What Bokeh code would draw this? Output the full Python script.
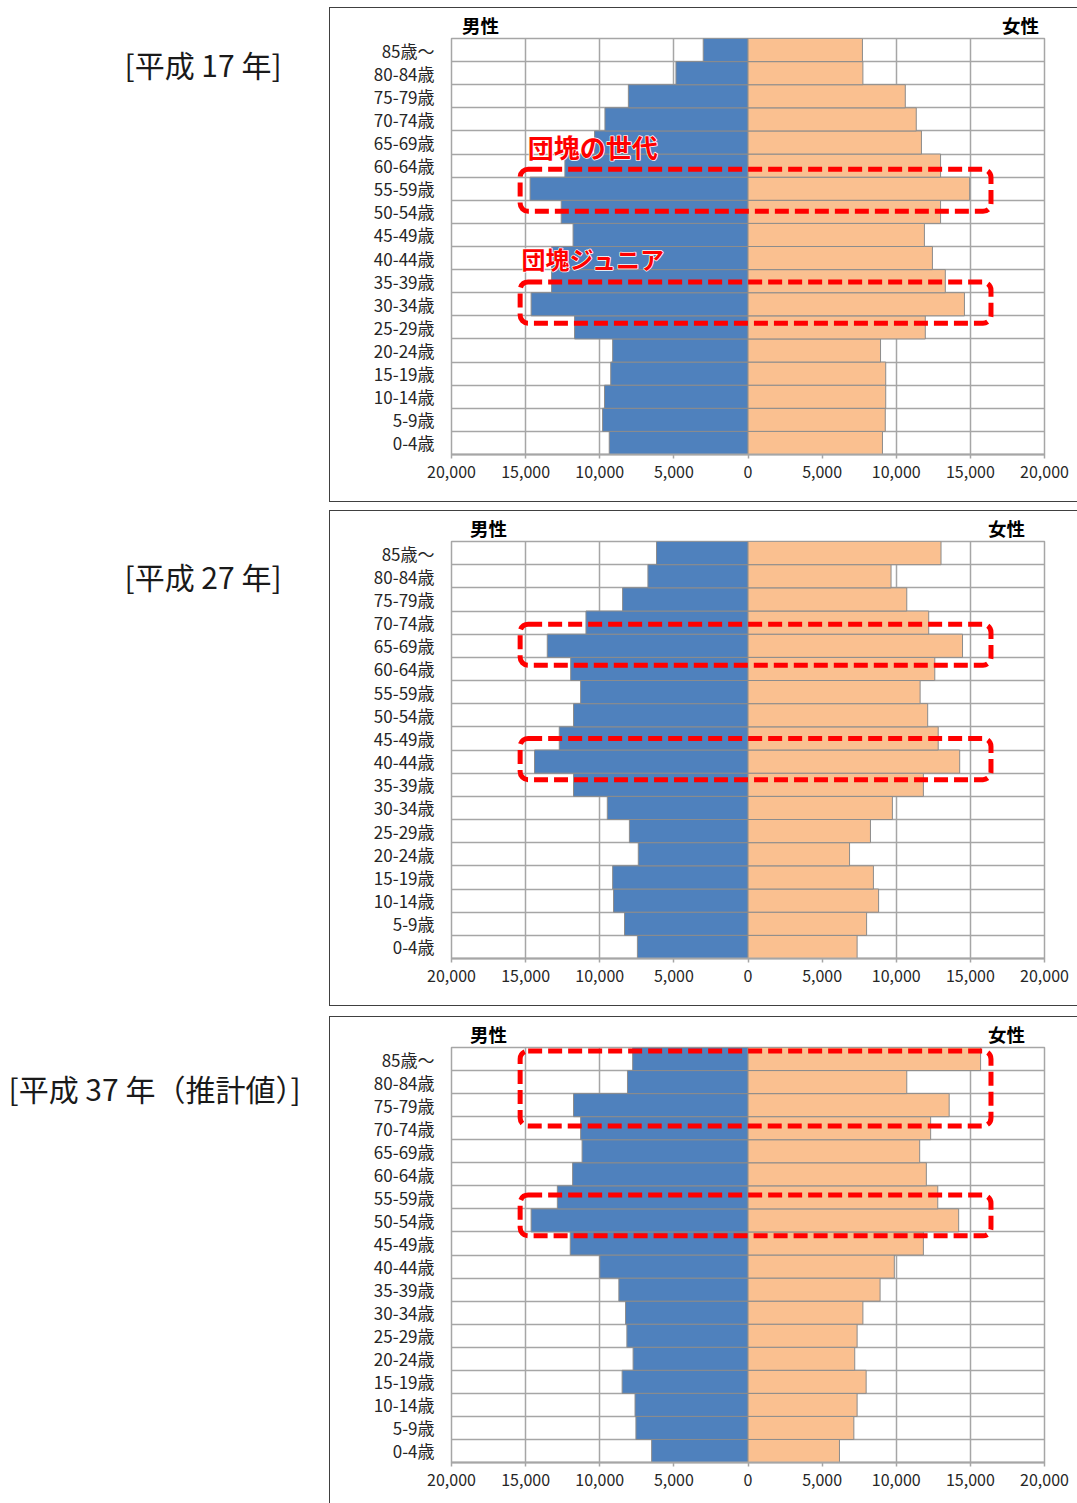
from bokeh.plotting import figure
from bokeh.models import Range1d, FixedTicker, LinearAxis, BoxAnnotation, Spacer
from bokeh.layouts import row, column
from bokeh.embed import file_html
from bokeh.resources import INLINE
from bokeh.core.properties import value

FONT = "Noto Sans CJK JP"

# ---------------- data ----------------
age_groups = ["0-4歳", "5-9歳", "10-14歳", "15-19歳", "20-24歳", "25-29歳",
              "30-34歳", "35-39歳", "40-44歳", "45-49歳", "50-54歳", "55-59歳",
              "60-64歳", "65-69歳", "70-74歳", "75-79歳", "80-84歳", "85歳～"]

male_h17 = [9360, 9810, 9680, 9260, 9130, 11700, 14630, 13250, 13250, 11800,
            12600, 14700, 12350, 10350, 9650, 8070, 4860, 3020]
female_h17 = [9070, 9260, 9290, 9290, 8940, 11960, 14600, 13310, 12440, 11900,
              12990, 14950, 12990, 11700, 11350, 10610, 7750, 7720]

male_h27 = [7460, 8330, 9070, 9130, 7400, 8000, 9490, 11770, 14400, 12730,
            11770, 11290, 11960, 13540, 10930, 8460, 6750, 6170]
female_h27 = [7360, 8000, 8810, 8460, 6850, 8260, 9740, 11830, 14280, 12830,
              12120, 11610, 12600, 14470, 12190, 10710, 9650, 13020]

male_h37 = [6500, 7560, 7620, 8490, 7750, 8170, 8260, 8710, 10000, 11990,
            14630, 12860, 11830, 11190, 11290, 11770, 8130, 7780]
female_h37 = [6170, 7140, 7360, 7970, 7200, 7360, 7750, 8910, 9870, 11830,
              14210, 12800, 12030, 11580, 12320, 13570, 10710, 15690]

x_ticks = [-20000, -15000, -10000, -5000, 0, 5000, 10000, 15000, 20000]
x_tick_labels = ["20,000", "15,000", "10,000", "5,000", "0", "5,000", "10,000", "15,000", "20,000"]

panel_titles = ["[平成 17 年]", "[平成 27 年]", "[平成 37 年（推計値）]"]
male_label = "男性"
female_label = "女性"

MALE_COLOR = "#4F81BD"
FEMALE_COLOR = "#FAC090"
GRID_COLOR = "#A6A6A6"
EDGE_COLOR = "#8C8C8C"
RED = "#FF0000"


def make_panel(male, female, height, top_b, bottom_b, header_pos,
               boxes, notes, bottom_border=True):
    p = figure(width=748, height=height, output_backend="svg", toolbar_location=None,
               x_range=Range1d(-20000, 20000), y_range=Range1d(-0.5, 17.5),
               min_border_left=121, min_border_right=34,
               min_border_top=top_b, min_border_bottom=bottom_b)
    styles = {"border-top": "1px solid #404040", "border-left": "1px solid #404040"}
    if bottom_border:
        styles["border-bottom"] = "1px solid #404040"
    p.styles = styles
    p.outline_line_color = GRID_COLOR
    p.outline_line_width = 1.5

    ys = list(range(len(age_groups)))
    p.hbar(y=ys, left=[-v for v in male], right=0, height=1.0,
           fill_color=MALE_COLOR, line_color=EDGE_COLOR, line_width=1)
    p.hbar(y=ys, left=0, right=female, height=1.0,
           fill_color=FEMALE_COLOR, line_color=EDGE_COLOR, line_width=1)

    # grid
    p.xgrid.ticker = FixedTicker(ticks=x_ticks)
    p.xgrid.grid_line_color = GRID_COLOR
    p.xgrid.grid_line_width = 1.5
    p.ygrid.ticker = FixedTicker(ticks=[i - 0.5 for i in range(len(age_groups) + 1)])
    p.ygrid.grid_line_color = GRID_COLOR
    p.ygrid.grid_line_width = 1.5

    # x axis
    xa = p.xaxis[0]
    xa.ticker = FixedTicker(ticks=x_ticks)
    xa.major_label_overrides = {t: l for t, l in zip(x_ticks, x_tick_labels)}
    xa.axis_line_color = GRID_COLOR
    xa.axis_line_width = 2
    xa.major_tick_line_color = GRID_COLOR
    xa.major_tick_line_width = 1.5
    xa.major_tick_out = 4
    xa.major_tick_in = 0
    xa.minor_tick_line_color = None
    xa.major_label_text_font = FONT
    xa.major_label_text_font_size = "16px"
    xa.major_label_text_color = "#262626"
    xa.major_label_standoff = 7

    # y axis
    ya = p.yaxis[0]
    ya.ticker = FixedTicker(ticks=ys)
    ya.major_label_overrides = {i: g for i, g in enumerate(age_groups)}
    ya.axis_line_color = None
    ya.major_tick_line_color = None
    ya.minor_tick_line_color = None
    ya.major_label_text_font = FONT
    ya.major_label_text_font_size = "17px"
    ya.major_label_text_color = "#262626"
    ya.major_label_standoff = 11

    # headers (男性 / 女性) as labels of an axis above the frame
    top_axis = LinearAxis(ticker=FixedTicker(ticks=list(header_pos)),
                          major_label_overrides={header_pos[0]: male_label,
                                                 header_pos[1]: female_label},
                          axis_line_color=None, major_tick_line_color=None,
                          minor_tick_line_color=None,
                          major_tick_out=0, major_tick_in=0,
                          minor_tick_out=0, minor_tick_in=0,
                          major_label_text_font=FONT,
                          major_label_text_font_style="bold",
                          major_label_text_font_size="18.5px",
                          major_label_text_color="black",
                          major_label_standoff=1)
    p.add_layout(top_axis, "above")

    # highlight boxes
    for (l, r, b, t) in boxes:
        p.add_layout(BoxAnnotation(left=l, right=r, bottom=b, top=t,
                                   fill_color=None, fill_alpha=0,
                                   line_color=RED, line_alpha=1.0, line_width=5,
                                   line_dash="14 6", border_radius=8))
    for (txt, x, y, fs) in notes:
        p.text(x=[x], y=[y], text=[txt], text_font=value(FONT),
               text_font_style="bold", text_font_size=fs, text_color=RED,
               text_align="left", text_baseline="middle",
               text_outline_color="white")
        p.text(x=[x], y=[y], text=[txt], text_font=value(FONT),
               text_font_style="bold", text_font_size=fs, text_color=RED,
               text_align="left", text_baseline="middle")
    return p


def make_title(text, height, top_b, bottom_b, x_left, y_center):
    # frame aligned with the neighbouring panel's frame; data y = pixels from row top
    t = figure(width=321, height=height, output_backend="svg", toolbar_location=None,
               title=None,
               x_range=Range1d(0, 321), y_range=Range1d(height - bottom_b, top_b),
               min_border_left=0, min_border_right=0,
               min_border_top=top_b, min_border_bottom=bottom_b,
               x_axis_type=None, y_axis_type=None)
    t.outline_line_color = None
    t.grid.visible = False
    t.text(x=[x_left], y=[y_center], text=[text], text_font=value(FONT),
           text_font_size="30px", text_color="#1a1a1a",
           text_align="left", text_baseline="middle")
    return t


p1 = make_panel(male_h17, female_h17, 495, 30, 49, (-18040, 18380),
                [(-15370, 16390, 10.02, 11.84), (-15370, 16390, 5.18, 6.96)],
                [("団塊の世代", -14860, 12.82, "26px"), ("団塊ジュニア", -15270, 8.0, "24px")])
p2 = make_panel(male_h27, female_h27, 496, 30, 49, (-17500, 17430),
                [(-15370, 16390, 12.16, 13.93), (-15370, 16390, 7.22, 9.0)], [])
p3 = make_panel(male_h37, female_h37, 487, 29, 42, (-17500, 17430),
                [(-15370, 16390, 14.1, 17.35), (-15370, 16390, 9.33, 11.1)], [],
                bottom_border=False)

t1 = make_title(panel_titles[0], 495, 30, 49, 116, 56)
t2 = make_title(panel_titles[1], 496, 30, 49, 116, 65)
t3 = make_title(panel_titles[2], 487, 29, 42, 0, 71)

layout = column(Spacer(height=7),
                row(Spacer(width=8), t1, p1),
                Spacer(height=8),
                row(Spacer(width=8), t2, p2),
                Spacer(height=10),
                row(Spacer(width=8), t3, p3))

open("out.html", "w").write(file_html(layout, INLINE))
